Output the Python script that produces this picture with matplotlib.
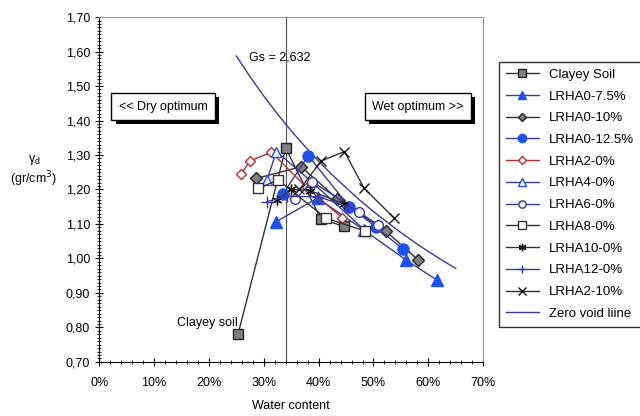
import matplotlib
matplotlib.use("Agg")
import matplotlib.pyplot as plt
import matplotlib.patheffects as pe
from matplotlib.ticker import FuncFormatter, MultipleLocator

plt.rcParams["font.family"] = ["Liberation Sans", "DejaVu Sans"]

# water content (%) and dry unit weight (gr/cm3) per mix
clay_w = [25.3, 34.0, 40.4, 44.6]
clay_y = [0.78, 1.32, 1.115, 1.093]
l0_75_w = [32.3, 39.8, 48.2, 56.0, 61.5]
l0_75_y = [1.107, 1.175, 1.083, 0.995, 0.938]
l0_10_w = [28.6, 36.8, 43.4, 52.2, 58.2]
l0_10_y = [1.232, 1.266, 1.173, 1.080, 0.995]
l0_125_w = [33.5, 38.1, 45.6, 50.4, 55.3]
l0_125_y = [1.187, 1.298, 1.150, 1.092, 1.028]
l2_0_w = [25.9, 27.5, 31.4, 37.8, 44.3]
l2_0_y = [1.245, 1.283, 1.308, 1.206, 1.118]
l4_0_w = [29.0, 30.6, 32.3, 38.7, 48.4]
l4_0_y = [1.206, 1.228, 1.310, 1.223, 1.082]
l6_0_w = [35.7, 38.8, 47.3, 50.8]
l6_0_y = [1.171, 1.223, 1.136, 1.097]
l8_0_w = [29.0, 32.6, 41.3, 48.4]
l8_0_y = [1.203, 1.228, 1.117, 1.080]
l10_0_w = [32.5, 35.0, 38.4, 44.7]
l10_0_y = [1.170, 1.200, 1.197, 1.158]
l12_0_w = [30.6, 34.3, 39.9, 45.4]
l12_0_y = [1.165, 1.180, 1.179, 1.150]
l2_10_w = [36.5, 40.5, 44.7, 48.3, 53.8]
l2_10_y = [1.200, 1.283, 1.310, 1.203, 1.117]
zav_w = [25.0, 27.5, 30.0, 32.5, 35.0, 37.5, 40.0, 42.5, 45.0, 47.5, 50.0,
         52.5, 55.0, 57.5, 60.0, 62.5, 65.0]
zav_y = [1.587, 1.527, 1.471, 1.419, 1.370, 1.325, 1.282, 1.242, 1.205,
         1.169, 1.136, 1.105, 1.075, 1.047, 1.020, 0.995, 0.971]

NAVY = "#3a3aa0"
BLUE = "#2050f0"
GREY = "#808080"
DARK = "#333333"
RED = "#b03030"

fig = plt.figure(figsize=(6.4, 4.16), dpi=100)
ax = fig.add_axes([0.155, 0.130, 0.600, 0.829])

ax.axvline(34.0, color="#555555", lw=0.8, zorder=1)

series = [
    (clay_w, clay_y, "Clayey Soil", dict(color=DARK, marker="s", ms=7, mfc=GREY, mec="#222222")),
    (l0_75_w, l0_75_y, "LRHA0-7.5%", dict(color=NAVY, marker="^", ms=8, mfc=BLUE, mec=BLUE)),
    (l0_10_w, l0_10_y, "LRHA0-10%", dict(color=DARK, marker="D", ms=6, mfc=GREY, mec="#222222")),
    (l0_125_w, l0_125_y, "LRHA0-12.5%", dict(color=NAVY, marker="o", ms=8, mfc=BLUE, mec=BLUE)),
    (l2_0_w, l2_0_y, "LRHA2-0%", dict(color=RED, marker="D", ms=5, mfc="white", mec=RED)),
    (l4_0_w, l4_0_y, "LRHA4-0%", dict(color=NAVY, marker="^", ms=7, mfc="white", mec=BLUE)),
    (l6_0_w, l6_0_y, "LRHA6-0%", dict(color=NAVY, marker="o", ms=7, mfc="white", mec=NAVY)),
    (l8_0_w, l8_0_y, "LRHA8-0%", dict(color=DARK, marker="s", ms=7, mfc="white", mec=DARK)),
    (l10_0_w, l10_0_y, "LRHA10-0%", dict(color=DARK, marker=(6, 2, 0), ms=7, mec="#111111")),
    (l12_0_w, l12_0_y, "LRHA12-0%", dict(color=NAVY, marker="+", ms=8, mec=NAVY)),
    (l2_10_w, l2_10_y, "LRHA2-10%", dict(color=DARK, marker="x", ms=7, mec="#111111")),
]
for w, y, name, style in series:
    ax.plot(w, y, lw=1.0, label=name, zorder=3, **style)
ax.plot(zav_w, zav_y, color=NAVY, lw=1.0, label="Zero void liine", zorder=2)

ax.set_xlim(0, 70)
ax.set_ylim(0.70, 1.70)
ax.xaxis.set_major_locator(MultipleLocator(10))
ax.xaxis.set_minor_locator(MultipleLocator(2))
ax.yaxis.set_major_locator(MultipleLocator(0.1))
ax.yaxis.set_minor_locator(MultipleLocator(0.01))
ax.xaxis.set_major_formatter(FuncFormatter(lambda v, p: f"{v:.0f}%"))
ax.yaxis.set_major_formatter(FuncFormatter(lambda v, p: f"{v:.2f}".replace(".", ",")))
ax.tick_params(which="both", direction="inout", labelsize=9)
ax.tick_params(which="major", length=6)
ax.tick_params(which="minor", length=3)
ax.tick_params(axis="x", pad=8)
for side in ("top", "right"):
    ax.spines[side].set_color("#999999")

ax.set_xlabel("Water content", fontsize=9, labelpad=8)
ax.set_ylabel("$\\mathregular{\\gamma_d}$\n(gr/cm$^3$)", fontsize=9, rotation=0)
ax.yaxis.set_label_coords(-0.17, 0.50)

ax.text(27.3, 1.584, "Gs = 2,632", fontsize=9, va="center")
ax.text(14.1, 0.813, "Clayey soil", fontsize=9, va="center")

# boxed notes with a dark drop shadow
for x, txt in [(3.6, "<< Dry optimum"), (49.8, "Wet optimum >>")]:
    t = ax.text(x, 1.44, txt, fontsize=9, va="center", zorder=5,
                bbox=dict(boxstyle="square,pad=0.6", fc="white", ec="black", lw=1))
    t.get_bbox_patch().set_path_effects(
        [pe.SimplePatchShadow(offset=(3, -3), shadow_rgbFace="black", alpha=1), pe.Normal()])

leg = ax.legend(loc="upper left", bbox_to_anchor=(0.78, 0.851), bbox_transform=fig.transFigure,
                borderaxespad=0, fontsize=9.5, frameon=True, fancybox=False, markerscale=0.75,
                handlelength=2.5, labelspacing=0.72, borderpad=0.5)
leg.get_frame().set_edgecolor("black")
leg.get_frame().set_linewidth(1)

fig.savefig("out.png", dpi=100)
